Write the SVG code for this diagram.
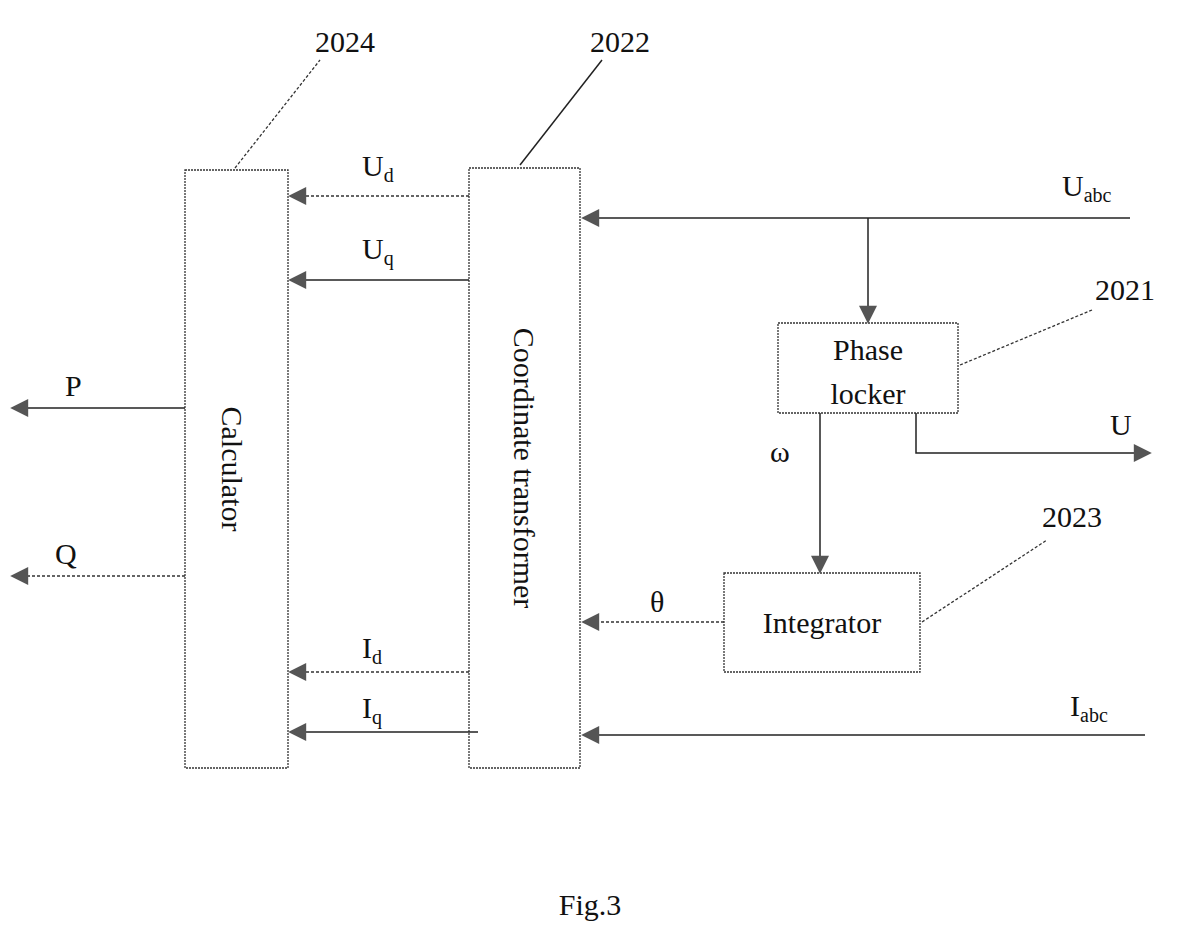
<svg xmlns="http://www.w3.org/2000/svg" width="1178" height="948" viewBox="0 0 1178 948">
<defs>
<marker id="ah" viewBox="0 0 10 10" refX="9" refY="5" markerWidth="30" markerHeight="18" markerUnits="userSpaceOnUse" orient="auto"><path d="M0,0L10,5L0,10z" fill="#555"/></marker>
</defs>
<style>
.b{fill:#fff;stroke:#333;stroke-width:1.3;stroke-dasharray:2 1}
.l{fill:none;stroke:#222;stroke-width:1.5}
.d{fill:none;stroke:#333;stroke-width:1.3;stroke-dasharray:3 2}
text{font-family:"Liberation Serif",serif;fill:#111}
.t{font-size:30px}
.s{font-size:20px}
</style>
<rect width="1178" height="948" fill="#fff"/>
<g id="calculator"><rect class="b" x="185" y="170" width="103" height="598"/><text class="t" transform="translate(222,469) rotate(90)" text-anchor="middle">Calculator</text></g>
<g id="transformer"><rect class="b" x="469" y="168" width="111" height="600"/><text class="t" transform="translate(514,468) rotate(90)" text-anchor="middle">Coordinate transformer</text></g>
<g id="phaselocker"><rect class="b" x="778" y="323" width="180" height="90"/><text class="t" x="868" y="360" text-anchor="middle">Phase</text><text class="t" x="868" y="404" text-anchor="middle">locker</text></g>
<g id="integrator"><rect class="b" x="724" y="573" width="196" height="99"/><text class="t" x="822" y="633" text-anchor="middle">Integrator</text></g>
<g id="connectors">
<path class="d" d="M469,196H290" marker-end="url(#ah)"/>
<path class="l" d="M469,280H290" marker-end="url(#ah)"/>
<path class="d" d="M469,672H290" marker-end="url(#ah)"/>
<path class="l" d="M478,732H290" marker-end="url(#ah)"/>
<path class="l" d="M185,408H12" marker-end="url(#ah)"/>
<path class="d" d="M185,576H12" marker-end="url(#ah)"/>
<path class="l" d="M1130,218H583" marker-end="url(#ah)"/>
<path class="l" d="M868,218V322" marker-end="url(#ah)"/>
<path class="l" d="M820,413V572" marker-end="url(#ah)"/>
<path class="l" d="M916,413V453H1150" marker-end="url(#ah)"/>
<path class="d" d="M724,622H583" marker-end="url(#ah)"/>
<path class="l" d="M1145,735H583" marker-end="url(#ah)"/>
<path class="d" d="M235,168L320,60"/>
<path class="l" d="M520,165L602,60"/>
<path class="d" d="M960,365L1092,310"/>
<path class="d" d="M922,622L1047,540"/>
</g>
<g id="labels">
<text class="t" x="345" y="52" text-anchor="middle">2024</text>
<text class="t" x="620" y="52" text-anchor="middle">2022</text>
<text class="t" x="1125" y="300" text-anchor="middle">2021</text>
<text class="t" x="1072" y="527" text-anchor="middle">2023</text>
<text class="t" x="362" y="176">U<tspan class="s" dy="6">d</tspan></text>
<text class="t" x="362" y="259">U<tspan class="s" dy="6">q</tspan></text>
<text class="t" x="362" y="658">I<tspan class="s" dy="6">d</tspan></text>
<text class="t" x="362" y="718">I<tspan class="s" dy="6">q</tspan></text>
<text class="t" x="65" y="396">P</text>
<text class="t" x="55" y="564">Q</text>
<text class="t" x="1062" y="196">U<tspan class="s" dy="6">abc</tspan></text>
<text class="t" x="1070" y="716">I<tspan class="s" dy="6">abc</tspan></text>
<text class="t" x="1110" y="435">U</text>
<text class="t" x="770" y="462">ω</text>
<text class="t" x="650" y="612">θ</text>
<text class="t" x="590" y="915" text-anchor="middle">Fig.3</text>
</g>
</svg>
